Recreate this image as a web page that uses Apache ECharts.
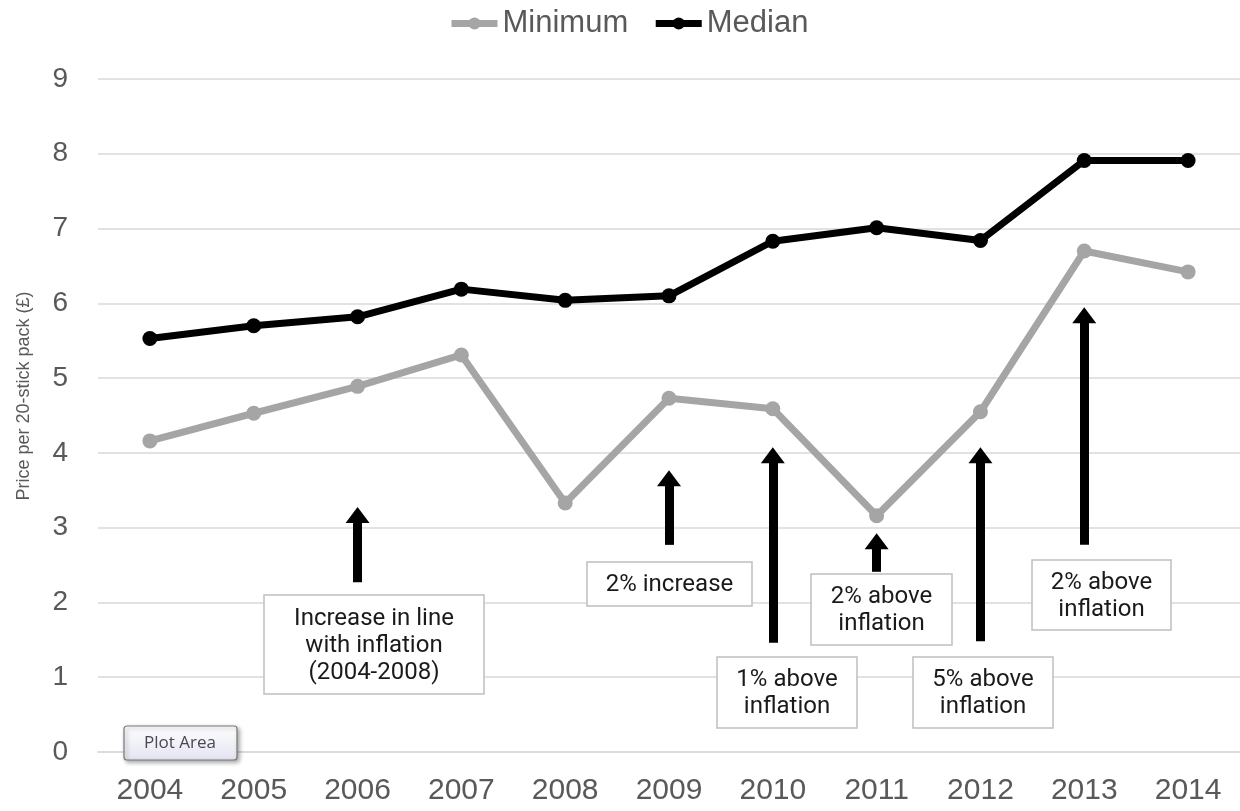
<!DOCTYPE html>
<html>
<head>
<meta charset="utf-8">
<script src="https://cdn.jsdelivr.net/npm/echarts@6/dist/echarts.min.js"></script>
<style>html,body{margin:0;padding:0;background:#fff;}#c{width:1240px;height:811px;}</style>
</head>
<body>
<div id="c"></div>
<script>
const years = ['2004','2005','2006','2007','2008','2009','2010','2011','2012','2013','2014'];
const minimum = [4.16, 4.53, 4.89, 5.31, 3.33, 4.73, 4.59, 3.16, 4.55, 6.70, 6.42];
const median  = [5.53, 5.70, 5.82, 6.19, 6.04, 6.10, 6.83, 7.01, 6.84, 7.91, 7.91];
const yTicks = [0,1,2,3,4,5,6,7,8,9];
// annotation arrows: [year, from value, tip value]
const arrows = [
  ['2006', 2.27, 3.28],
  ['2009', 2.77, 3.77],
  ['2010', 1.46, 4.08],
  ['2011', 2.41, 2.93],
  ['2012', 1.48, 4.08],
  ['2013', 2.77, 5.95]
];
// annotation boxes: text, box left, top, width, height (pixels)
const notes = [
  ['Increase in line\nwith inflation\n(2004-2008)', 264, 595, 220, 99],
  ['2% increase', 587, 562, 165, 44],
  ['1% above\ninflation', 717, 657, 140, 71],
  ['2% above\ninflation', 811, 574, 141, 71],
  ['5% above\ninflation', 913, 657, 140, 71],
  ['2% above\ninflation', 1032, 560, 139, 70]
];

const chart = echarts.init(document.getElementById('c'));
const arrowHalf = 0.11;
const graphics = [];
notes.forEach(n => {
  graphics.push({type: 'rect', z: 100, shape: {x: n[1], y: n[2], width: n[3], height: n[4]},
    style: {fill: '#ffffff', stroke: '#bfbfbf', lineWidth: 1.5}});
  graphics.push({type: 'text', z: 101, style: {text: n[0], x: n[1] + n[3] / 2, y: n[2] + n[4] / 2 + 1,
    align: 'center', verticalAlign: 'middle', font: '24px Roboto', fill: '#1a1a1a', lineHeight: 27}});
});
graphics.push({
  type: 'text', z: 100,
  rotation: Math.PI / 2, x: 24, y: 396,
  style: {text: 'Price per 20-stick pack (£)', align: 'center', verticalAlign: 'middle',
    font: '18px "Liberation Sans", Arial', fill: '#595959'}
});
graphics.push({type: 'rect', z: 120, shape: {x: 124, y: 726, width: 113, height: 34, r: 3},
  style: {fill: new echarts.graphic.LinearGradient(0, 0, 0, 1, [{offset: 0, color: '#ffffff'}, {offset: 1, color: '#e3e4f0'}]),
    stroke: '#7a7a7a', lineWidth: 1.2, shadowBlur: 4, shadowOffsetX: 2, shadowOffsetY: 2, shadowColor: 'rgba(0,0,0,0.35)'}});
graphics.push({type: 'text', z: 121, style: {text: 'Plot Area', x: 180, y: 743, align: 'center', verticalAlign: 'middle',
  font: '17px "Open Sans"', fill: '#4a4658'}});

chart.setOption({
  animation: false,
  backgroundColor: '#ffffff',
  legend: {
    data: [
      {name: 'Minimum', itemStyle: {color: '#a5a5a5'}, lineStyle: {color: '#a5a5a5', width: 7}},
      {name: 'Median', itemStyle: {color: '#000000'}, lineStyle: {color: '#000000', width: 7}}
    ],
    lineStyle: {width: 7},
    left: 443, top: 3,
    itemWidth: 46, itemHeight: 15, itemGap: 24,
    textStyle: {fontSize: 31, color: '#595959', fontFamily: '"Liberation Sans", Arial'}
  },
  grid: {left: 98, top: 79, bottom: 59, width: 1147},
  xAxis: {
    type: 'category', data: years, boundaryGap: true,
    axisLine: {show: true, lineStyle: {color: '#d9d9d9', width: 1.5}},
    axisTick: {show: false},
    axisLabel: {fontSize: 30, color: '#595959', margin: 24, fontFamily: '"Liberation Sans", Arial'}
  },
  yAxis: {
    type: 'value', min: 0, max: 9, interval: 1,
    axisLine: {show: false}, axisTick: {show: false},
    splitLine: {lineStyle: {color: '#d9d9d9', width: 1.5}},
    axisLabel: {fontSize: 28, color: '#595959', margin: 30, fontFamily: '"Liberation Sans", Arial',
      formatter: v => yTicks.includes(v) ? String(v) : ''}
  },
  graphic: graphics,
  series: [
    {name: 'Minimum', type: 'line', data: minimum, symbol: 'circle', symbolSize: 15,
     lineStyle: {color: '#a5a5a5', width: 7}, itemStyle: {color: '#a5a5a5'}, z: 3},
    {name: 'Median', type: 'line', data: median, symbol: 'circle', symbolSize: 15,
     lineStyle: {color: '#000000', width: 7}, itemStyle: {color: '#000000'}, z: 4},
    {name: 'arrows', type: 'line', data: [], z: 5,
     markLine: {
       silent: true, animation: false,
       symbol: ['none', 'triangle'], symbolSize: [24, 16],
       label: {show: false},
       lineStyle: {color: '#000000', width: 9, type: 'solid'},
       emphasis: {disabled: true},
       data: arrows.map(a => [
         {coord: [a[0], a[1]]},
         {coord: [a[0], a[2] - arrowHalf]}
       ])
     }}
  ]
});
</script>
</body>
</html>
